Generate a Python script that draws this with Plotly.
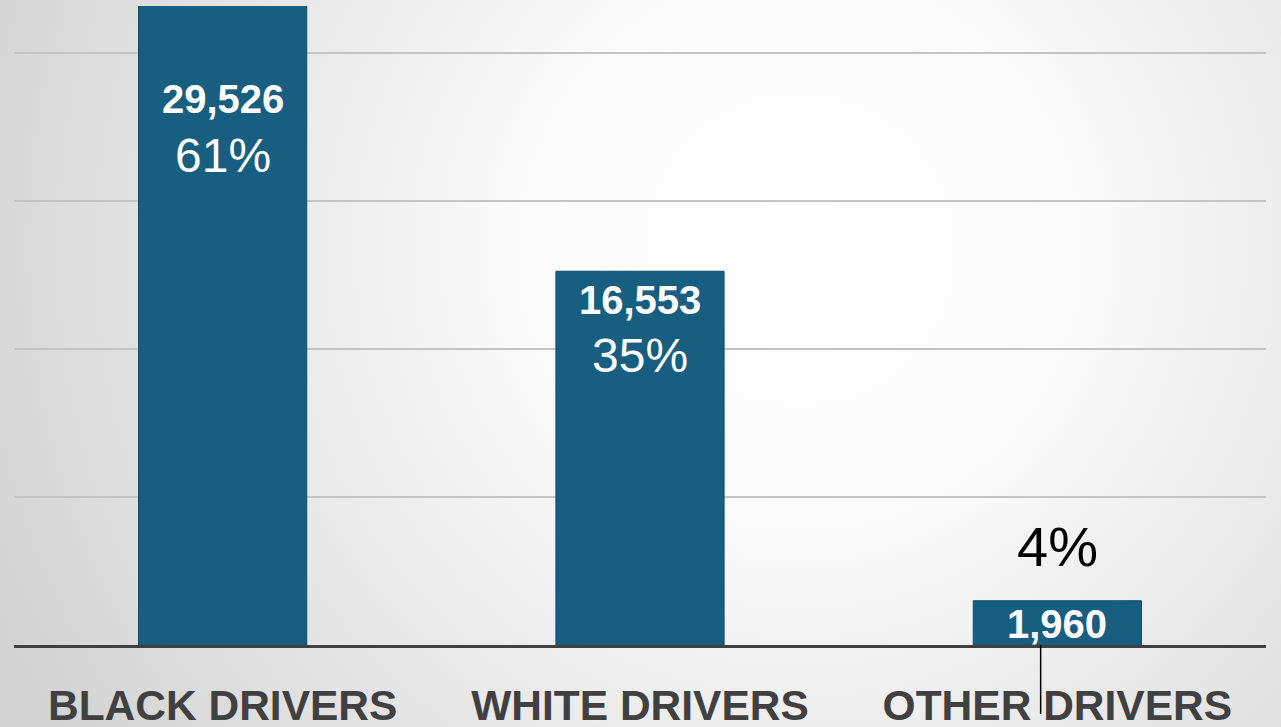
import base64
import plotly.graph_objects as go

categories = ["BLACK DRIVERS", "WHITE DRIVERS", "OTHER DRIVERS"]
counts = [29526, 16553, 1960]
count_labels = ["29,526", "16,553", "1,960"]
pct_labels = ["61%", "35%", "4%"]

W, H = 1281, 727
ML, MR, MT, MB = 14, 15, 6, 82
PW, PH = W - ML - MR, H - MT - MB
YMAX = 28300

bar_color = "#175E80"
svg = (
    f"<svg xmlns='http://www.w3.org/2000/svg' width='{W}' height='{H}'>"
    "<defs><radialGradient id='g' gradientUnits='userSpaceOnUse' cx='800' cy='250' r='900'>"
    "<stop offset='0' stop-color='#ffffff'/><stop offset='0.3' stop-color='#fbfbfb'/>"
    "<stop offset='1' stop-color='#d2d2d2'/></radialGradient></defs>"
    f"<rect width='{W}' height='{H}' fill='url(#g)'/></svg>"
)
bg_src = "data:image/svg+xml;base64," + base64.b64encode(svg.encode()).decode()

fig = go.Figure()
fig.add_trace(go.Bar(
    x=categories, y=counts,
    marker=dict(color=bar_color, line=dict(color="#0F4C69", width=1)),
    width=0.403, hoverinfo="skip",
))

# label offsets (px) relative to the visible bar top
num_shift = [-93, -29, -23]
pct_shift = [-149, -84, 54]
pct_colors = ["white", "white", "black"]
pct_sizes = [48, 48, 56]
annotations = []
for i, cat in enumerate(categories):
    ytop = min(counts[i], YMAX)
    annotations.append(dict(x=cat, y=ytop, xref="x", yref="y", text=f"<b>{count_labels[i]}</b>",
                            showarrow=False, yanchor="middle", yshift=num_shift[i],
                            font=dict(family="Liberation Sans, Arial", size=40, color="white")))
    annotations.append(dict(x=cat, y=ytop, xref="x", yref="y", text=pct_labels[i],
                            showarrow=False, yanchor="middle", yshift=pct_shift[i],
                            font=dict(family="Liberation Sans, Arial", size=pct_sizes[i], color=pct_colors[i])))

fig.update_layout(
    width=W, height=H,
    margin=dict(l=ML, r=MR, t=MT, b=MB),
    paper_bgcolor="rgba(0,0,0,0)", plot_bgcolor="rgba(0,0,0,0)",
    showlegend=False,
    annotations=annotations,
    images=[dict(source=bg_src, xref="paper", yref="paper",
                 x=-ML / PW, y=1 + MT / PH, sizex=W / PW, sizey=H / PH,
                 xanchor="left", yanchor="top", sizing="stretch", layer="below")],
    shapes=[dict(type="line", xref="x", yref="paper", x0=1.96, x1=1.96, y0=0, y1=-69 / PH,
                 line=dict(color="black", width=1.5))],
    xaxis=dict(showgrid=False, showline=True, linecolor="#404040", linewidth=3,
               ticks="", tickfont=dict(family="Liberation Sans, Arial", size=42.5, color="#404040"),
               tickprefix="<b>", ticksuffix="</b>", ticklabelstandoff=21, automargin=False),
    yaxis=dict(range=[0, YMAX], dtick=6555, showgrid=True, gridcolor="#c4c4c4", gridwidth=1.5,
               showticklabels=False, zeroline=False, fixedrange=True, automargin=False),
    font=dict(family="Liberation Sans, Arial"),
)

fig.write_html("out.html", config={"displayModeBar": False},
               post_script="document.body.style.margin='0';document.body.style.overflow='hidden';")
